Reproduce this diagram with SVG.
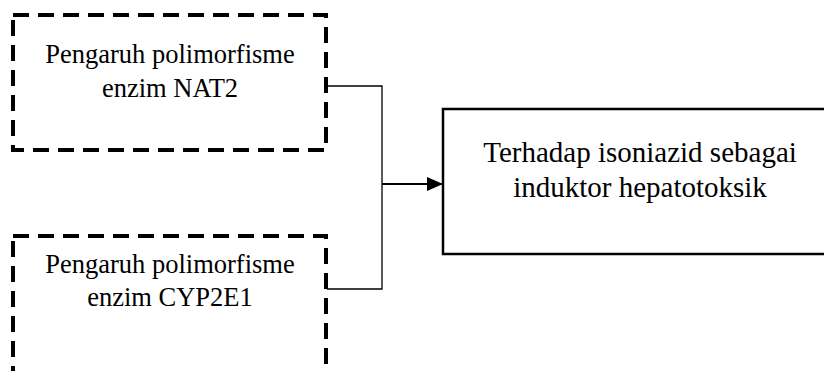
<svg xmlns="http://www.w3.org/2000/svg" width="824" height="371" viewBox="0 0 824 371">
<style>
.dash{fill:none;stroke:#000;stroke-width:4;stroke-dasharray:16 9}
.solid{fill:none;stroke:#000;stroke-width:2.5}
.conn{fill:none;stroke:#000;stroke-width:1.3}
.arr{fill:none;stroke:#000;stroke-width:2}
text{font-family:"Liberation Serif","Times New Roman",serif;font-size:26.5px;fill:#000;text-anchor:middle}
.big{font-size:29px}
</style>
<defs>
<marker id="ah" markerWidth="16" markerHeight="14" refX="16" refY="7" orient="auto" markerUnits="userSpaceOnUse">
<path d="M0,0 L16,7 L0,14 Z" fill="#000"/>
</marker>
</defs>
<rect width="824" height="371" fill="#fff"/>
<g id="connectors">
<path class="conn" d="M327,86 H382 V289 H327"/>
<path class="arr" d="M382,184 H443" marker-end="url(#ah)"/>
</g>
<g id="node-nat2">
<rect class="dash" x="13" y="15" width="313" height="135"/>
<text x="170" y="63">Pengaruh polimorfisme</text>
<text x="170" y="97">enzim NAT2</text>
</g>
<g id="node-cyp2e1">
<rect class="dash" x="13" y="236" width="313" height="160"/>
<text x="170" y="273">Pengaruh polimorfisme</text>
<text x="170" y="306">enzim CYP2E1</text>
</g>
<g id="node-result">
<rect class="solid" x="443" y="109" width="400" height="145"/>
<text class="big" x="640" y="162">Terhadap isoniazid sebagai</text>
<text class="big" x="640" y="197">induktor hepatotoksik</text>
</g>
</svg>
